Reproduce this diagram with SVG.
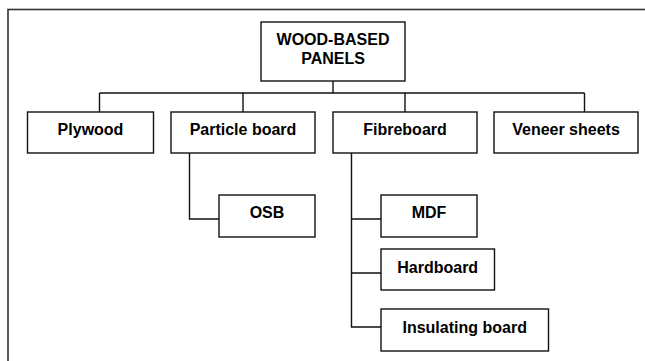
<svg xmlns="http://www.w3.org/2000/svg" width="645" height="361" viewBox="0 0 645 361">
<style>
.box{fill:#fff;stroke:#111;stroke-width:1.4}
.lbl{font-family:"Liberation Sans",Arial,sans-serif;font-weight:bold;font-size:16px;fill:#000;text-anchor:middle}
.con{fill:none;stroke:#111;stroke-width:1.4}
</style>
<rect x="0" y="0" width="645" height="361" fill="#fff"/>
<rect x="8" y="9.5" width="700" height="400" fill="none" stroke="#333" stroke-width="1.6"/>
<g id="connectors">
<path class="con" d="M333 81 V93 M99.5 93 H584.5 M99.5 93 V112 M243 93 V112 M405 93 V112 M584.5 93 V112"/>
<path class="con" d="M189.5 153 V219 H219"/>
<path class="con" d="M351.5 153 V327 H381 M351.5 219 H381 M351.5 273 H381"/>
</g>
<g id="root"><rect class="box" x="261" y="22" width="144" height="59"/><text class="lbl" x="333" y="45">WOOD-BASED</text><text class="lbl" x="333" y="63.5">PANELS</text></g>
<g id="plywood"><rect class="box" x="27.5" y="112" width="126" height="41"/><text class="lbl" x="90.5" y="135">Plywood</text></g>
<g id="particle"><rect class="box" x="171" y="112" width="144" height="41"/><text class="lbl" x="243" y="135">Particle board</text></g>
<g id="fibreboard"><rect class="box" x="333" y="112" width="144" height="41"/><text class="lbl" x="405" y="135">Fibreboard</text></g>
<g id="veneer"><rect class="box" x="494" y="112" width="144" height="41"/><text class="lbl" x="566" y="135">Veneer sheets</text></g>
<g id="osb"><rect class="box" x="219" y="195" width="96" height="42"/><text class="lbl" x="267" y="218">OSB</text></g>
<g id="mdf"><rect class="box" x="381" y="195" width="96" height="42"/><text class="lbl" x="429" y="218">MDF</text></g>
<g id="hardboard"><rect class="box" x="381" y="249" width="113.5" height="41"/><text class="lbl" x="437.7" y="272.5">Hardboard</text></g>
<g id="insulating"><rect class="box" x="381" y="309" width="167.5" height="42"/><text class="lbl" x="464.7" y="332.7">Insulating board</text></g>
</svg>
